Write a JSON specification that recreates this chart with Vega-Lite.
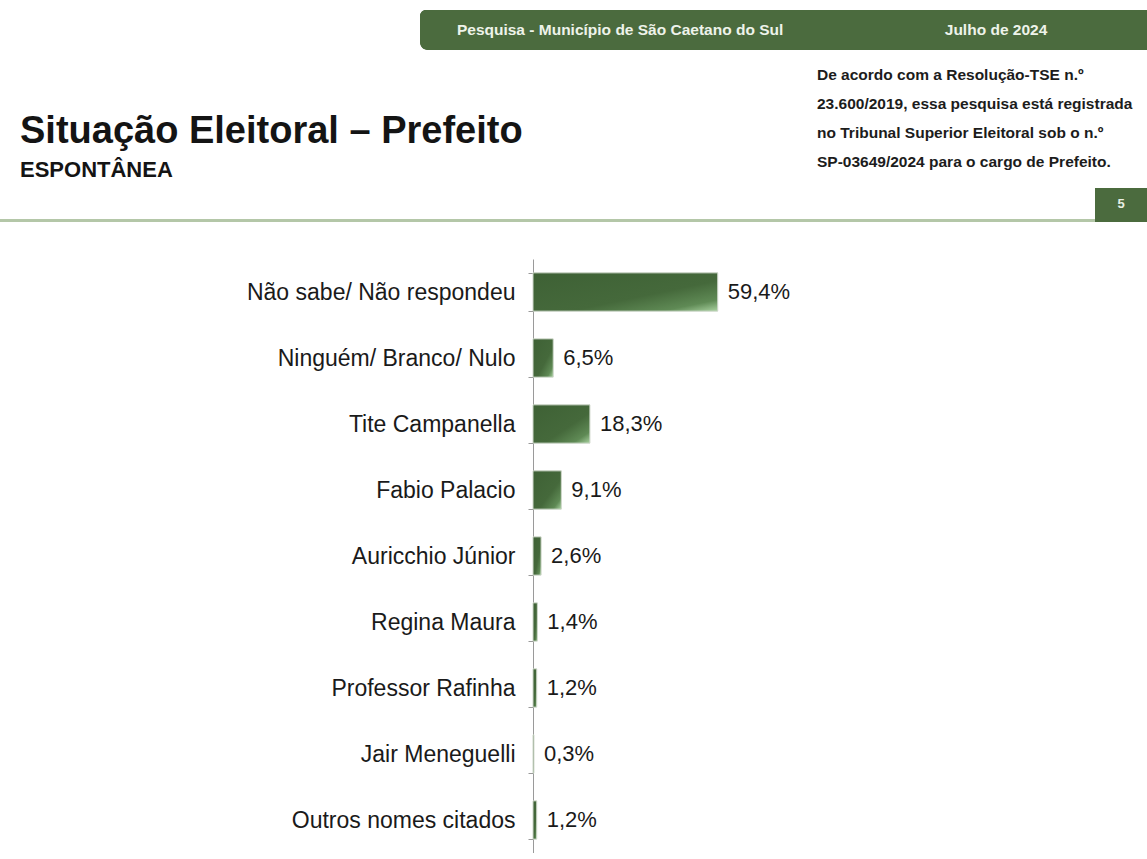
{
  "$schema": "https://vega.github.io/schema/vega-lite/v6.json",
  "background": "white",
  "padding": {"left": 0, "top": 10, "right": 0, "bottom": 0},
  "config": {
    "view": {"stroke": null},
    "locale": {"number": {"decimal": ",", "thousands": ".", "grouping": [3], "currency": ["R$", ""]}}
  },
  "spacing": 26,
  "vconcat": [
    {
      "spacing": 0,
      "vconcat": [
        {
          "spacing": 0,
          "hconcat": [
            {"width": 420, "height": 40, "data": {"values": [{}]}, "mark": {"type": "rect", "opacity": 0}, "encoding": {}},
            {
              "width": 727,
              "height": 40,
              "data": {"values": [
                {"item": "pesquisa", "text": "Pesquisa - Município de São Caetano do Sul"},
                {"item": "data", "text": "Julho de 2024"}
              ]},
              "layer": [
                {"mark": {"type": "rect", "color": "#4b6b3e", "cornerRadiusTopLeft": 6, "cornerRadiusBottomLeft": 8}, "encoding": {}},
                {
                  "mark": {"type": "text", "align": "center", "baseline": "middle", "font": "Liberation Sans", "fontWeight": "bold", "fontSize": 15.5, "color": "#eef3ea"},
                  "encoding": {
                    "x": {"field": "item", "type": "nominal", "axis": null, "scale": {"type": "point", "domain": ["pesquisa", "data"], "padding": 0.467, "align": 0.57}},
                    "text": {"field": "text"}
                  }
                }
              ]
            }
          ]
        },
        {
          "spacing": 0,
          "hconcat": [
            {"width": 20, "height": 169, "data": {"values": [{}]}, "mark": {"type": "rect", "opacity": 0}, "encoding": {}},
            {
              "width": 797,
              "height": 169,
              "layer": [
                {"data": {"values": [{}]}, "mark": {"type": "rect", "opacity": 0}, "encoding": {}},
                {
                  "data": {"values": [{"block": "t", "part": "title", "text": "Situação Eleitoral – Prefeito"}]},
                  "mark": {"type": "text", "align": "left", "baseline": "alphabetic", "font": "Liberation Sans", "fontWeight": "bold", "fontSize": 38, "color": "#141414"},
                  "encoding": {
                    "x": {"field": "block", "type": "nominal", "axis": null, "scale": {"type": "point", "align": 0}},
                    "y": {"field": "part", "type": "nominal", "axis": null, "scale": {"type": "point", "domain": ["title", "sub"], "range": [93, 127], "padding": 0}},
                    "text": {"field": "text"}
                  }
                },
                {
                  "data": {"values": [{"block": "t", "part": "sub", "text": "ESPONTÂNEA"}]},
                  "mark": {"type": "text", "align": "left", "baseline": "alphabetic", "font": "Liberation Sans", "fontWeight": "bold", "fontSize": 22, "color": "#141414"},
                  "encoding": {
                    "x": {"field": "block", "type": "nominal", "axis": null, "scale": {"type": "point", "align": 0}},
                    "y": {"field": "part", "type": "nominal", "axis": null, "scale": {"type": "point", "domain": ["title", "sub"], "range": [93, 127], "padding": 0}},
                    "text": {"field": "text"}
                  }
                }
              ]
            },
            {
              "spacing": 0,
              "vconcat": [
                {
                  "width": 330,
                  "height": 138,
                  "layer": [
                    {"data": {"values": [{}]}, "mark": {"type": "rect", "opacity": 0}, "encoding": {}},
                    {
                      "data": {"values": [
                        {"block": "d", "line": "1", "text": "De acordo com a Resolução-TSE n.º"},
                        {"block": "d", "line": "2", "text": "23.600/2019, essa pesquisa está registrada"},
                        {"block": "d", "line": "3", "text": "no Tribunal Superior Eleitoral sob o n.º"},
                        {"block": "d", "line": "4", "text": "SP-03649/2024 para o cargo de Prefeito."}
                      ]},
                      "mark": {"type": "text", "align": "left", "baseline": "alphabetic", "font": "Liberation Sans", "fontWeight": "bold", "fontSize": 15.5, "color": "#1c1c1c"},
                      "encoding": {
                        "x": {"field": "block", "type": "nominal", "axis": null, "scale": {"type": "point", "align": 0}},
                        "y": {"field": "line", "type": "nominal", "axis": null, "scale": {"type": "point", "domain": ["1", "2", "3", "4"], "range": [30, 117], "padding": 0}},
                        "text": {"field": "text"}
                      }
                    }
                  ]
                },
                {
                  "spacing": 0,
                  "hconcat": [
                    {"width": 278, "height": 31, "data": {"values": [{}]}, "mark": {"type": "rect", "opacity": 0}, "encoding": {}},
                    {
                      "width": 52,
                      "height": 31,
                      "data": {"values": [{"page": "5"}]},
                      "layer": [
                        {"mark": {"type": "rect", "color": "#4b6b3e"}, "encoding": {}},
                        {"mark": {"type": "text", "align": "center", "baseline": "middle", "font": "Liberation Sans", "fontWeight": "bold", "fontSize": 13, "color": "#e8efe4"}, "encoding": {"text": {"field": "page"}}}
                      ]
                    }
                  ]
                }
              ]
            }
          ]
        },
        {
          "spacing": 0,
          "hconcat": [
            {"width": 1095, "height": 3, "data": {"values": [{}]}, "mark": {"type": "rect", "color": "#b4c7a8"}, "encoding": {}},
            {"width": 52, "height": 3, "data": {"values": [{}]}, "mark": {"type": "rect", "color": "#4b6b3e"}, "encoding": {}}
          ]
        }
      ]
    },
    {
      "spacing": 0,
      "hconcat": [
        {"width": 1, "height": 594, "data": {"values": [{}]}, "mark": {"type": "rect", "opacity": 0}, "encoding": {}},
        {
          "width": 311,
          "height": 594,
          "data": {"values": [
            {"opcao": "Não sabe/ Não respondeu", "share": 0.594},
            {"opcao": "Ninguém/ Branco/ Nulo", "share": 0.065},
            {"opcao": "Tite Campanella", "share": 0.183},
            {"opcao": "Fabio Palacio", "share": 0.091},
            {"opcao": "Auricchio Júnior", "share": 0.026},
            {"opcao": "Regina Maura", "share": 0.014},
            {"opcao": "Professor Rafinha", "share": 0.012},
            {"opcao": "Jair Meneguelli", "share": 0.003},
            {"opcao": "Outros nomes citados", "share": 0.012}
          ]},
          "encoding": {
            "y": {
              "field": "opcao",
              "type": "nominal",
              "sort": null,
              "scale": {"paddingInner": 0.42, "paddingOuter": 0.21},
              "axis": {
                "title": null,
                "labelFont": "Liberation Sans",
                "labelFontSize": 23,
                "labelColor": "#1a1a1a",
                "labelPadding": 13,
                "labelLimit": 0,
                "tickSize": 5,
                "tickBand": "extent",
                "tickColor": "#9a9a9a",
                "domainColor": "#9a9a9a",
                "minExtent": 532,
                "maxExtent": 532
              }
            }
          },
          "layer": [
            {
              "mark": {
                "type": "bar",
                "fill": {
                  "gradient": "linear",
                  "x1": 0, "y1": 0, "x2": 1, "y2": 1,
                  "stops": [
                    {"offset": 0, "color": "#3e6135"},
                    {"offset": 0.6, "color": "#45693b"},
                    {"offset": 0.85, "color": "#5f8a55"},
                    {"offset": 1, "color": "#a9d2a0"}
                  ]
                },
                "stroke": "#cdd6c9",
                "strokeWidth": 1
              },
              "encoding": {
                "x": {"field": "share", "type": "quantitative", "scale": {"domain": [0, 1]}, "axis": null}
              }
            },
            {
              "mark": {"type": "text", "align": "left", "baseline": "middle", "dx": 10, "font": "Liberation Sans", "fontSize": 22, "color": "#1a1a1a"},
              "encoding": {
                "x": {"field": "share", "type": "quantitative"},
                "text": {"field": "share", "type": "quantitative", "format": ".1%"}
              }
            }
          ]
        }
      ]
    }
  ]
}
